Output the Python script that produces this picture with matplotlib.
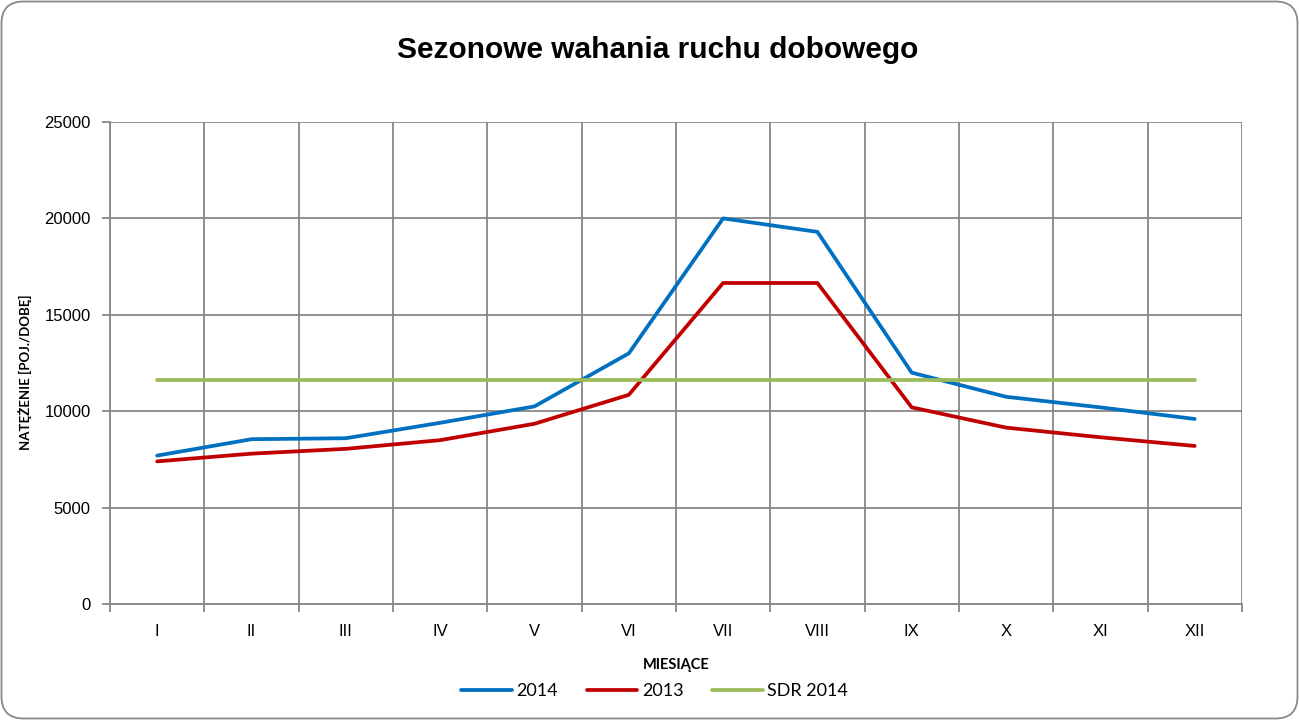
import matplotlib
matplotlib.use("Agg")
import matplotlib.pyplot as plt
from matplotlib.patches import FancyBboxPatch
import numpy as np

months = ["I", "II", "III", "IV", "V", "VI", "VII", "VIII", "IX", "X", "XI", "XII"]
traffic_2014 = [7700, 8550, 8600, 9400, 10250, 13000, 20000, 19300, 12000, 10750, 10200, 9600]
traffic_2013 = [7400, 7800, 8050, 8500, 9350, 10850, 16650, 16650, 10200, 9150, 8650, 8200]
sdr_2014 = [11600] * 12

plt.rcParams['font.family'] = ['Liberation Sans', 'DejaVu Sans']

fig = plt.figure(figsize=(12.99, 7.2), dpi=100)
ax = fig.add_axes([0.0847, 0.161, 0.8713, 0.6696])

x = np.arange(len(months))
ax.plot(x, traffic_2014, color='#0070C0', lw=2.7, label='2014', solid_capstyle='round')
ax.plot(x, traffic_2013, color='#C00000', lw=2.7, label='2013', solid_capstyle='round')
ax.plot(x, sdr_2014, color='#9BBB59', lw=2.7, label='SDR 2014', solid_capstyle='round')

ax.set_xlim(-0.5, len(months) - 0.5)
ax.set_ylim(0, 25000)
ax.set_yticks(np.arange(0, 25001, 5000))
ax.set_xticks(x)
ax.set_xticklabels(months)
ax.set_xticks(np.arange(-0.5, len(months)), minor=True)

ax.grid(False)
ax.yaxis.grid(True, color='#878787', lw=1.3)
ax.xaxis.grid(True, which='minor', color='#878787', lw=1.3)
ax.set_axisbelow(True)
for s in ['top', 'right']:
    ax.spines[s].set_visible(False)
for s in ['left', 'bottom']:
    ax.spines[s].set_color('#878787')
    ax.spines[s].set_linewidth(1.3)

ax.tick_params(axis='x', which='major', length=0, pad=14, labelsize=12)
ax.tick_params(axis='x', which='minor', length=6, color='#878787', width=1.3)
ax.tick_params(axis='y', length=6, color='#878787', width=1.3, labelsize=12, pad=8)

ax.set_xlabel('MIESIĄCE', fontsize=10.5, fontweight='bold', family=['Lato', 'DejaVu Sans'])
ax.xaxis.set_label_coords(0.5, -0.112)
ax.set_ylabel('NATĘŻENIE [POJ./DOBĘ]', fontsize=9.5, fontweight='bold', family=['Lato', 'DejaVu Sans'])
ax.yaxis.set_label_coords(-0.069, 0.48)

fig.text(0.506, 0.93, 'Sezonowe wahania ruchu dobowego', ha='center', va='center',
         fontsize=21.5, fontweight='bold')

fig.legend(loc='center', bbox_to_anchor=(0.504, 0.04), ncol=3, frameon=False,
           handlelength=2.8, columnspacing=1.6, handletextpad=0.25,
           prop={'family': ['Lato', 'DejaVu Sans'], 'size': 13})

border = FancyBboxPatch((1.5, 1.5), 1296, 717, boxstyle="round,pad=0,rounding_size=22",
                        transform=None, facecolor='none', edgecolor='#888888', lw=1.3)
fig.patches.append(border)

fig.savefig('out.png', dpi=100)
